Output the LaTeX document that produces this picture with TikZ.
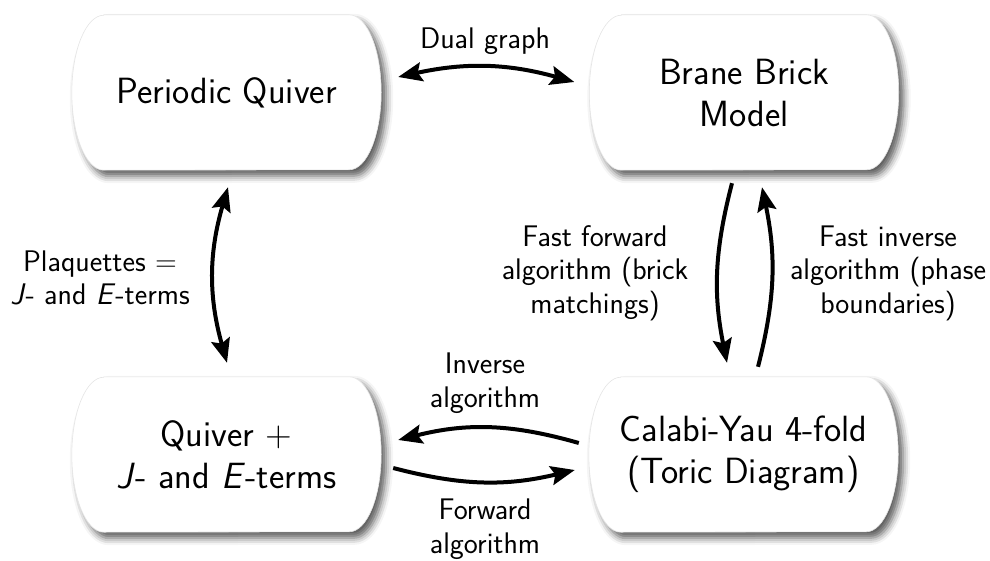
\documentclass[tikz,border=0pt]{standalone}
\usetikzlibrary{calc,shadows.blur,arrows.meta,backgrounds}
\newcommand\bshape[1]{%
  \path[boxshape] ($(#1.north west)+(32pt,0pt)$) -- ($(#1.north east)+(-32pt,0pt)$)
    arc[start angle=90,end angle=-90,x radius=32pt,y radius=77.5pt]
    -- ($(#1.south west)+(32pt,0pt)$)
    arc[start angle=270,end angle=90,x radius=32pt,y radius=77.5pt] -- cycle;}
\begin{document}
\begin{tikzpicture}[x=1pt,y=-1pt,
  box/.style={minimum width=309pt, minimum height=155pt, inner sep=0pt, align=center,
    font=\sffamily\fontsize{36.5}{42}\selectfont},
  lbl/.style={align=center, font=\sffamily\fontsize{29.8}{33.5}\selectfont},
  tip/.tip={Stealth[length=24pt,width=19pt,inset=4pt]},
  arr/.style={line width=4pt, -tip},
  dbl/.style={line width=4pt, tip-tip},
  boxshape/.style={fill=white, draw=black!10, line width=0.6pt,
    blur shadow={shadow xshift=5pt, shadow yshift=-6pt, shadow blur radius=7pt, shadow opacity=65}}]
\useasboundingbox (0,0) rectangle (990,561);
\node[box] (pq) at (226.5,92.5) {Periodic Quiver};
\node[box] (bb) at (744,92.5) {Brane Brick\\Model};
\node[box] (qj) at (226.5,454.5) {Quiver +\\\textit{J}- and \textit{E}-terms};
\node[box] (cy) at (743.5,454.5) {Calabi-Yau 4-fold\\(Toric Diagram)};
\begin{scope}[on background layer]
\bshape{pq}\bshape{bb}\bshape{qj}\bshape{cy}
\end{scope}
\node[lbl] (dg) at (485,41) {Dual graph};
\node[lbl] (pl) at (100,278) {Plaquettes =\\\textit{J}- and \textit{E}-terms};
\node[lbl] (ff) at (595,273) {Fast forward\\algorithm (brick\\matchings)};
\node[lbl] (fi) at (888,273) {Fast inverse\\algorithm (phase\\boundaries)};
\node[lbl] (ia) at (485,383) {Inverse\\algorithm};
\node[lbl] (fa) at (485,529) {Forward\\algorithm};
\draw[dbl] ([shift={(17,-15.5)}]pq.east) to[bend left=14] ([shift={(-15,-10.5)}]bb.west);
\draw[dbl] ([shift={(1.5,17)}]pq.south) to[bend right=16] ([shift={(0.5,-14)}]qj.north);
\draw[arr] ([shift={(-12,13)}]bb.south) to[bend right=13] ([shift={(-16.5,-14)}]cy.north);
\draw[arr] ([shift={(14.5,-10)}]cy.north) to[bend right=13] ([shift={(18,17)}]bb.south);
\draw[arr] ([shift={(-10,-11.5)}]cy.west) to[bend right=15] ([shift={(17,-14.5)}]qj.east);
\draw[arr] ([shift={(12,13.5)}]qj.east) to[bend right=14] ([shift={(-14,15.5)}]cy.west);
\end{tikzpicture}
\end{document}
